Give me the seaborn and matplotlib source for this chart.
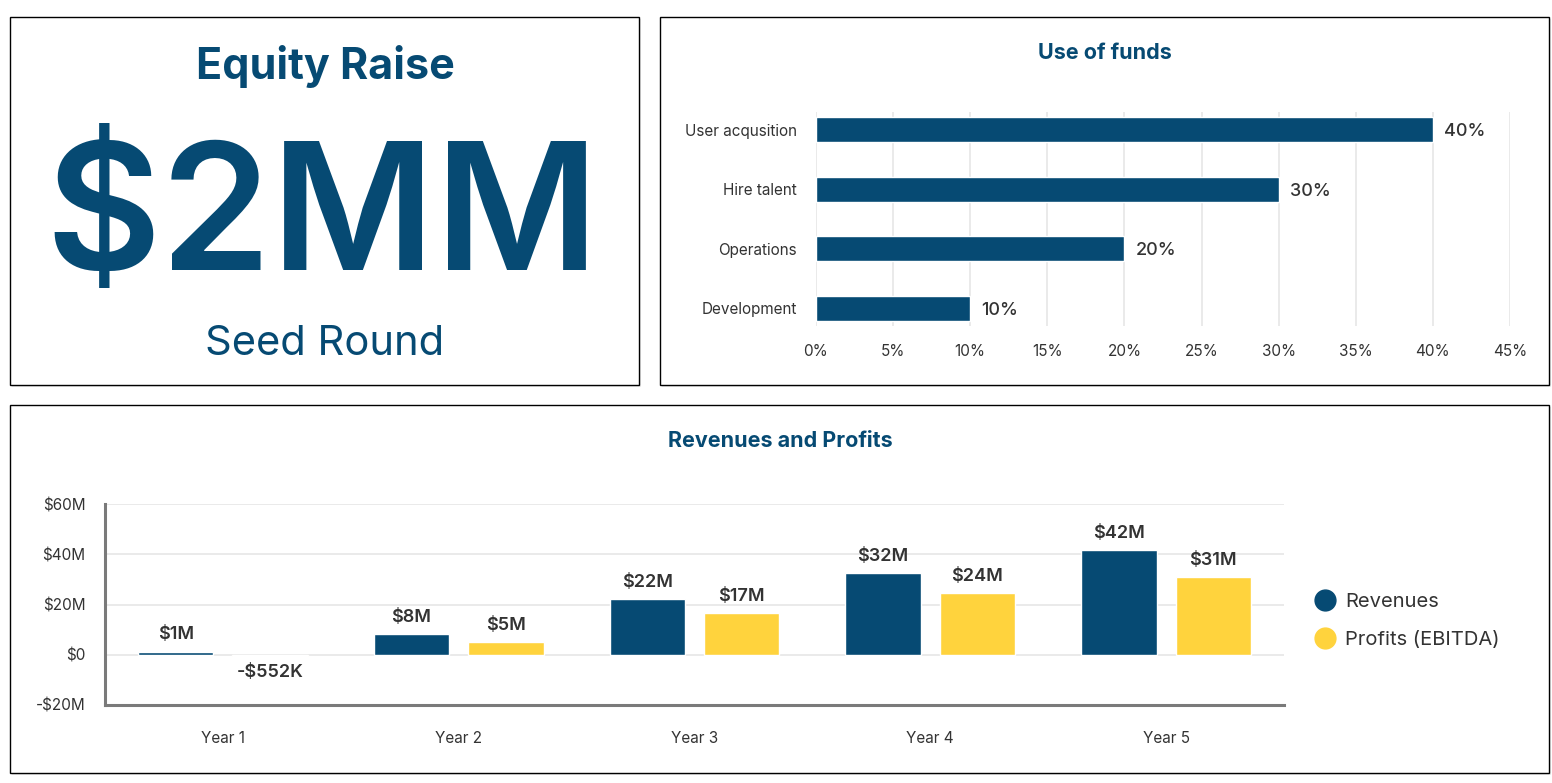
import matplotlib

matplotlib.use("Agg")
import matplotlib.pyplot as plt
import pandas as pd
import seaborn as sns
from matplotlib.lines import Line2D
from matplotlib.patches import Rectangle

NAVY = "#064A73"
YELLOW = "#FFD33D"
TEXT = "#333333"
GRID = "#E6E6E6"
SPINE = "#7A7A7A"

# headline
RAISE_TITLE = "Equity Raise"
RAISE_AMOUNT = "$2MM"
RAISE_ROUND = "Seed Round"

# use of funds
fund_categories = ["User acqusition", "Hire talent", "Operations", "Development"]
fund_share = [40, 30, 20, 10]
fund_ticks = [0, 5, 10, 15, 20, 25, 30, 35, 40, 45]

# revenues and profits, in $M
years = ["Year 1", "Year 2", "Year 3", "Year 4", "Year 5"]
revenues = [1.2, 8.3, 22.1, 32.4, 41.6]
profits = [-0.552, 5.1, 16.6, 24.4, 31.0]
series_names = ["Revenues", "Profits (EBITDA)"]
money_ticks = [-20, 0, 20, 40, 60]

sns.set_theme(style="white")
plt.rcParams["font.family"] = ["Inter", "DejaVu Sans"]

W, H = 1552, 783
fig = plt.figure(figsize=(W / 100, H / 100), dpi=100)


def fx(px):
    return px / W


def fy(py):
    return 1 - py / H


def panel(x0, y0, x1, y1):
    # faint shadow then the black frame
    fig.patches.append(Rectangle((fx(x0 + 2), fy(y1 + 2)), fx(x1 - x0), (y1 - y0) / H,
                                 transform=fig.transFigure, facecolor="#EBEBEB",
                                 edgecolor="none", zorder=-3))
    fig.patches.append(Rectangle((fx(x0), fy(y1)), fx(x1 - x0), (y1 - y0) / H,
                                 transform=fig.transFigure, facecolor="white",
                                 edgecolor="black", linewidth=1.0, zorder=-2))


panel(10, 17, 639, 385)
panel(660, 17, 1549, 385)
panel(10, 405, 1549, 773)

# --- headline panel
fig.text(fx(325), fy(66), RAISE_TITLE, ha="center", va="center", fontsize=31,
         fontweight="bold", color=NAVY)
fig.text(fx(322), fy(224), RAISE_AMOUNT, ha="center", va="center", fontsize=128,
         fontweight="semibold", color=NAVY)
fig.text(fx(325), fy(344), RAISE_ROUND, ha="center", va="center", fontsize=30,
         color=NAVY)

# --- use of funds
ax1 = fig.add_axes([fx(816), fy(326), fx(1510 - 816), (326 - 112) / H])
ax1.patch.set_alpha(0)
sns.barplot(x=fund_share, y=fund_categories, orient="h", color=NAVY, width=0.42,
            saturation=1, ax=ax1, zorder=3)
ax1.set_xlim(0, 45)
ax1.set_ylim(3.3, -0.3)
ax1.set_xticks(fund_ticks)
ax1.set_xticklabels([f"{t}%" for t in fund_ticks])
ax1.xaxis.grid(True, color=GRID, linewidth=1.2)
ax1.set_axisbelow(True)
for s in ax1.spines.values():
    s.set_visible(False)
ax1.tick_params(axis="x", length=0, pad=13, labelsize=11, labelcolor=TEXT)
ax1.tick_params(axis="y", length=0, pad=14, labelsize=11, labelcolor=TEXT)
ax1.set_xlabel("")
ax1.set_ylabel("")
for t in ax1.bar_label(ax1.containers[0], labels=[f"{v}%" for v in fund_share],
                       padding=8, fontsize=13, fontweight="medium", color=TEXT):
    t.set_va("center_baseline")
fig.text(fx(1105), fy(53), "Use of funds", ha="center", va="center", fontsize=15.5,
         fontweight="bold", color=NAVY)

# --- revenues and profits
df = pd.DataFrame({
    "year": years * 2,
    "series": [series_names[0]] * len(years) + [series_names[1]] * len(years),
    "value": revenues + profits,
})
ax2 = fig.add_axes([fx(105), fy(705), fx(1284 - 105), (705 - 504) / H])
ax2.patch.set_alpha(0)
sns.barplot(data=df, x="year", y="value", hue="series", palette=[NAVY, YELLOW],
            width=0.8, gap=0.2, saturation=1, ax=ax2, legend=False, zorder=3)
ax2.set_xlim(-0.5, 4.5)
ax2.set_ylim(-20, 60)
ax2.set_yticks(money_ticks)
ax2.set_yticklabels([f"-${-t}M" if t < 0 else (f"${t}M" if t else "$0") for t in money_ticks])
ax2.yaxis.grid(True, color=GRID, linewidth=1.2)
ax2.set_axisbelow(True)
for side in ["top", "right"]:
    ax2.spines[side].set_visible(False)
for side in ["left", "bottom"]:
    ax2.spines[side].set_color(SPINE)
    ax2.spines[side].set_linewidth(2.2)
ax2.tick_params(axis="x", length=0, pad=19, labelsize=11, labelcolor=TEXT)
ax2.tick_params(axis="y", length=0, pad=14, labelsize=11, labelcolor=TEXT)
ax2.set_xlabel("")
ax2.set_ylabel("")


def money(v):
    if abs(v) < 1:
        s = f"${abs(v) * 1000:.0f}K"
    else:
        s = f"${abs(v):.0f}M"
    return "-" + s if v < 0 else s


for cont, vals in zip(ax2.containers, [revenues, profits]):
    ax2.bar_label(cont, labels=[money(v) for v in vals], padding=6, fontsize=13,
                  fontweight="semibold", color=TEXT)

fig.text(fx(780), fy(441), "Revenues and Profits", ha="center", va="center",
         fontsize=15.5, fontweight="bold", color=NAVY)

handles = [Line2D([], [], marker="o", linestyle="none", markersize=15,
                  markerfacecolor=c, markeredgecolor=c) for c in [NAVY, YELLOW]]
fig.legend(handles, series_names, loc="center left", bbox_to_anchor=(fx(1295), fy(621)),
           frameon=False, fontsize=14.5, labelcolor=TEXT, handletextpad=0.4,
           labelspacing=1.0, handlelength=1.2)

fig.savefig("out.png", dpi=100)
